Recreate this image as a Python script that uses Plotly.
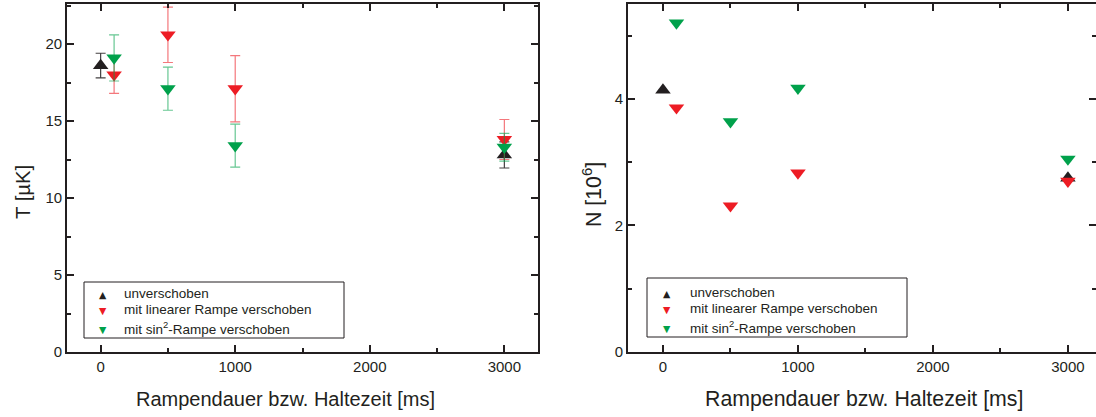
import plotly.graph_objects as go

# ---------------- data ----------------
x_unv = [0, 3000]
x_lin = [100, 500, 1000, 3000]
x_sin = [100, 500, 1000, 3000]

T_unv = [18.6, 12.8]
T_unv_err = [0.8, 0.85]
T_lin = [18.0, 20.6, 17.1, 13.8]
T_lin_err = [1.2, 1.8, 2.15, 1.3]
T_sin = [19.1, 17.1, 13.4, 13.3]
T_sin_err = [1.5, 1.4, 1.4, 0.9]

N_unv = [4.14, 2.75]
N_lin = [3.86, 2.31, 2.83, 2.70]
N_sin = [5.2, 3.64, 4.17, 3.05]

names = ["unverschoben", "mit linearer Rampe verschoben", "mit sin<sup>2</sup>-Rampe verschoben"]
x_ticks = [0, 1000, 2000, 3000]

# ---------------- style ----------------
W, H = 1096, 417
BLACK = "#231F20"
RED = "#ED1C24"
GREEN = "#00A14B"
FONT = "Arial, Liberation Sans, sans-serif"
MSIZE = 13.5


def px(x):
    return x / W


def py(y):
    return 1 - y / H


fig = go.Figure()

series_T = [
    (names[0], x_unv, T_unv, T_unv_err, "triangle-up", BLACK, "rgba(35,31,32,0.85)"),
    (names[1], x_lin, T_lin, T_lin_err, "triangle-down", RED, "rgba(237,28,36,0.6)"),
    (names[2], x_sin, T_sin, T_sin_err, "triangle-down", GREEN, "rgba(0,161,75,0.6)"),
]
for nm, xs, ys, es, sym, col, ecol in series_T:
    fig.add_trace(go.Scatter(
        x=xs, y=ys, mode="markers", xaxis="x", yaxis="y", name=nm, showlegend=False,
        marker=dict(symbol=sym, size=MSIZE, color=col, line=dict(width=0)),
        error_y=dict(type="data", array=es, visible=True, color=ecol, thickness=1.2, width=5),
    ))

series_N = [
    (names[0], x_unv, N_unv, "triangle-up", BLACK),
    (names[1], x_lin, N_lin, "triangle-down", RED),
    (names[2], x_sin, N_sin, "triangle-down", GREEN),
]
for nm, xs, ys, sym, col in series_N:
    fig.add_trace(go.Scatter(
        x=xs, y=ys, mode="markers", xaxis="x2", yaxis="y2", name=nm, showlegend=False,
        marker=dict(symbol=sym, size=MSIZE, color=col, line=dict(width=0)),
    ))

ydom = [py(352), py(4)]
axis_common = dict(
    showline=True, linecolor=BLACK, linewidth=1.8, mirror="allticks",
    ticks="inside", ticklen=7, tickwidth=1.5, tickcolor=BLACK,
    showgrid=False, zeroline=False, automargin=False,
    tickfont=dict(family=FONT, size=15, color=BLACK),
)
minor_common = dict(ticks="inside", ticklen=4, tickwidth=1.5, tickcolor=BLACK, showgrid=False)

annotations = [
    dict(text="Rampendauer bzw. Haltezeit [ms]", x=px(285), y=py(399), size=20),
    dict(text="Rampendauer bzw. Haltezeit [ms]", x=px(864), y=py(399), size=21.3),
    dict(text="T [µK]", x=px(23), y=py(192), textangle=-90, size=20.3),
    dict(text="N [10<sup>6</sup>]", x=px(592), y=py(195), textangle=-90, size=21.3),
]
for a in annotations:
    s = a.pop("size")
    a.update(xref="paper", yref="paper", showarrow=False, xanchor="center", yanchor="middle",
             font=dict(family=FONT, size=s, color=BLACK))

# manual legends (box + symbol + text), one per panel
legend_boxes = [(84, 344, 282, 338, 102.7, 122, [293, 309.5, 328]),
                (647, 907, 278, 337, 666.7, 688, [292, 308.5, 327])]
symbols = [("▲", BLACK), ("▼", RED), ("▼", GREEN)]
shapes = []
for x0, x1, y0, y1, sx, tx, rows in legend_boxes:
    shapes.append(dict(type="rect", xref="paper", yref="paper", x0=px(x0), x1=px(x1),
                       y0=py(y1), y1=py(y0), line=dict(color=BLACK, width=1)))
    for (sym, col), nm, ry in zip(symbols, names, rows):
        annotations.append(dict(text=sym, x=px(sx), y=py(ry + 1), xref="paper", yref="paper",
                                showarrow=False, xanchor="center", yanchor="middle",
                                font=dict(family="DejaVu Sans", size=9.5, color=col)))
        annotations.append(dict(text=nm, x=px(tx), y=py(ry), xref="paper", yref="paper",
                                showarrow=False, xanchor="left", yanchor="middle",
                                font=dict(family=FONT, size=13.5, color=BLACK)))

fig.update_layout(
    width=W, height=H,
    margin=dict(l=0, r=0, t=0, b=0, autoexpand=False),
    paper_bgcolor="white", plot_bgcolor="white",
    font=dict(family=FONT, color=BLACK),
    showlegend=False,
    xaxis=dict(domain=[px(67), px(538)], range=[-250, 3250], anchor="y",
               tickvals=x_ticks, minor=dict(dtick=500, tick0=0, **minor_common), **axis_common),
    yaxis=dict(domain=ydom, range=[0, 22.6], anchor="x", dtick=5, tick0=0,
               minor=dict(dtick=2.5, tick0=0, **minor_common), **axis_common),
    xaxis2=dict(domain=[px(628), 1.0], range=[-259, 3208], anchor="y2",
                tickvals=x_ticks, minor=dict(dtick=500, tick0=0, **minor_common), **axis_common),
    yaxis2=dict(domain=ydom, range=[0, 5.5], anchor="x2", dtick=2, tick0=0,
                minor=dict(dtick=1, tick0=0, **minor_common), **axis_common),
    shapes=shapes,
    annotations=annotations,
)

fig.write_html("out.html")
